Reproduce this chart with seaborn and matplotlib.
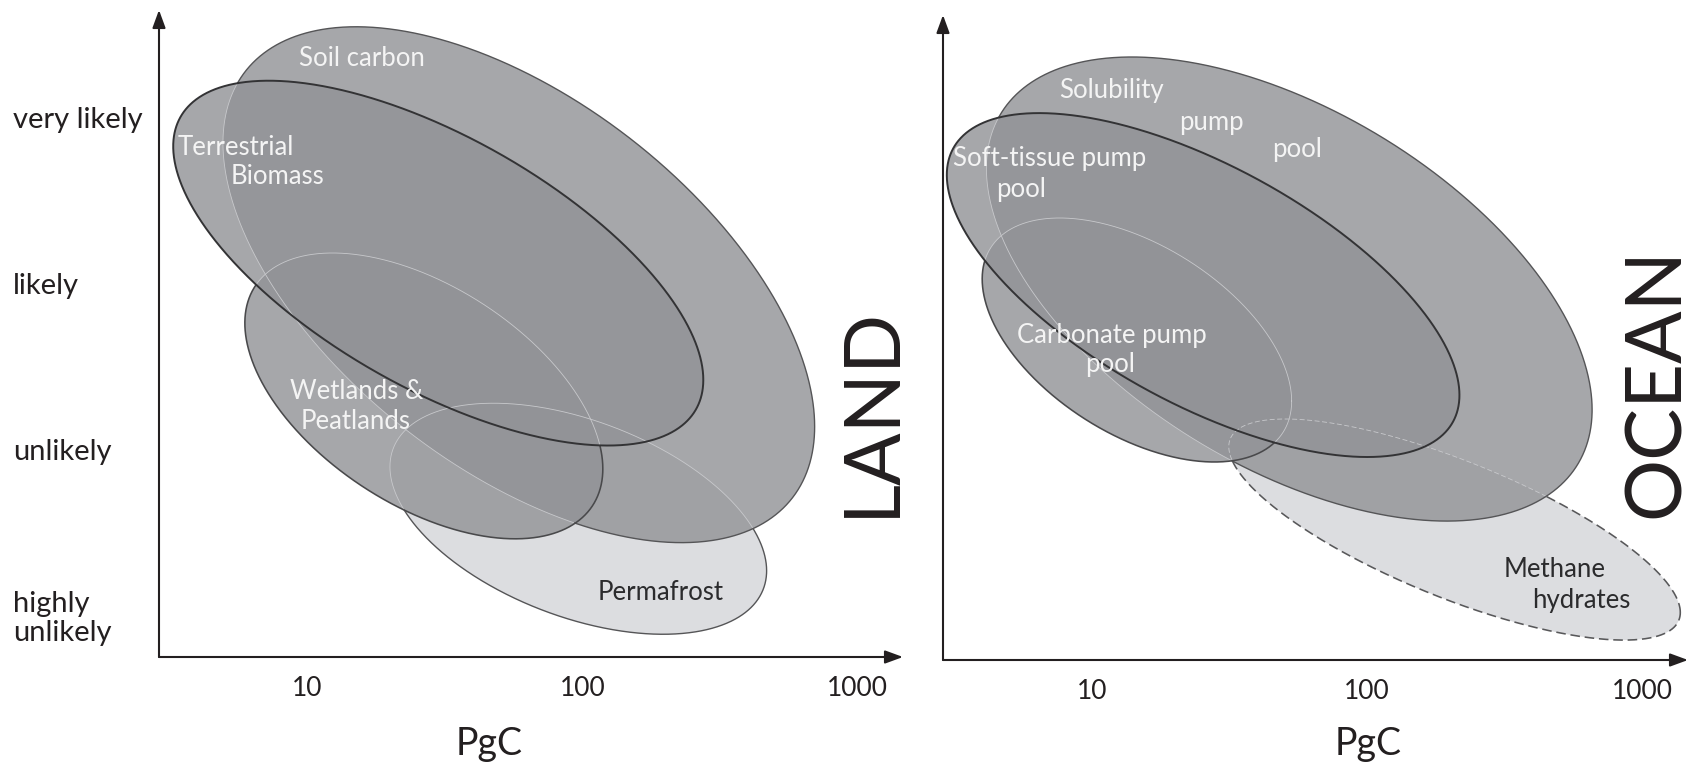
import numpy as np
import matplotlib
matplotlib.use("Agg")
import matplotlib.pyplot as plt
import matplotlib.transforms as mtransforms
import seaborn as sns

# ---------------- data ----------------
likelihood_levels = [4, 3, 2, 1]
likelihood_labels = ["very likely", "likely", "unlikely", "highly\nunlikely"]
pgc_ticks = [10, 100, 1000]
pgc_tick_labels = ["10", "100", "1000"]

# LAND pools (drawing order bottom -> top)
land_pools = ["Permafrost", "Soil carbon", "Wetlands & Peatlands", "Terrestrial Biomass"]
land_center_pgc = [96.6, 58.7, 26.5, 29.9]
land_center_lik = [1.58, 2.99, 2.32, 3.12]
land_spread_decades = [0.685, 1.076, 0.651, 0.964]
land_spread_levels = [0.696, 1.554, 0.861, 1.099]
land_tilt = [-0.45, -0.55, -0.51, -0.64]

# OCEAN pools (drawing order bottom -> top)
ocean_pools = ["Methane hydrates", "Solubility pump pool", "Carbonate pump pool", "Soft-tissue pump pool"]
ocean_center_pgc = [208.0, 52.2, 14.6, 25.4]
ocean_center_lik = [1.533, 2.982, 2.675, 3.006]
ocean_spread_decades = [0.82, 1.10, 0.562, 0.931]
ocean_spread_levels = [0.666, 1.398, 0.735, 1.036]
ocean_tilt = [-0.75, -0.52, -0.50, -0.64]

# labels inside the diagram
land_label_text = ["Soil carbon", "Terrestrial", "Biomass", "Wetlands &", "Peatlands", "Permafrost"]
land_label_pgc = [15.8, 5.5, 7.8, 15.1, 15.0, 192.8]
land_label_lik = [4.355, 3.819, 3.639, 2.349, 2.163, 1.133]
land_label_dark = [False, False, False, False, False, True]

ocean_label_text = ["Solubility", "pump", "pool", "Soft-tissue pump", "pool",
                    "Carbonate pump", "pool", "Methane", "hydrates"]
ocean_label_pgc = [11.8, 27.3, 55.6, 7.03, 5.56, 11.8, 11.7, 478.6, 600.0]
ocean_label_lik = [4.181, 3.988, 3.825, 3.771, 3.584, 2.705, 2.530, 1.295, 1.108]
ocean_label_dark = [False, False, False, False, False, False, False, True, True]

# ---------------- styles ----------------
INK = "#231f20"
land_fill = ["#dcdde0", "#929397", "#929397", "#929397"]
land_alpha = [1.0, 0.81, 0.81, 0.81]
land_edge = ["#555557", "#555557", "#49494b", "#333335"]
land_lw = [1.0, 1.0, 1.15, 1.4]
land_ls = ["-", "-", "-", "-"]

ocean_fill = ["#dcdde0", "#929397", "#929397", "#929397"]
ocean_alpha = [1.0, 0.81, 0.81, 0.81]
ocean_edge = ["#58585a", "#555557", "#49494b", "#333335"]
ocean_lw = [1.15, 1.0, 1.15, 1.4]
ocean_ls = [(0, (6, 3)), "-", "-", "-"]

sns.set_style("white")
plt.rcParams["font.family"] = ["Lato", "DejaVu Sans"]

fig = plt.figure(figsize=(16.96, 7.69), dpi=100)
ax_land = fig.add_axes([159 / 1696, 1 - 657 / 769, 744 / 1696, 647 / 769])
ax_ocean = fig.add_axes([943 / 1696, 1 - 660 / 769, 745 / 1696, 645 / 769])


def draw_pools(ax, cpgc, clik, wd, hl, tilt, fills, alphas, edges, lws, lss):
    t = np.linspace(0, 2 * np.pi, 1441)
    cx = np.log10(np.asarray(cpgc, float))
    n = len(cx)
    curves = []
    for i in range(n):
        phi = np.arccos(tilt[i])
        xl = cx[i] + wd[i] * np.cos(t)
        yl = clik[i] + hl[i] * np.cos(t - phi)
        curves.append((xl, yl))
        ax.fill(10 ** xl, yl, color=fills[i], alpha=alphas[i], lw=0, zorder=1 + i)
    for i in range(n):
        xl, yl = curves[i]
        covered = np.zeros_like(xl, dtype=bool)
        for j in range(i + 1, n):
            u = (xl - cx[j]) / wd[j]
            v = (yl - clik[j]) / hl[j]
            s = np.sqrt(1 - tilt[j] ** 2)
            covered |= (u ** 2 + ((v - u * tilt[j]) / s) ** 2) < 1
        exposed = ~covered
        ex = exposed | np.roll(exposed, 1) | np.roll(exposed, -1)
        cv = covered | np.roll(covered, 1) | np.roll(covered, -1)
        ydark = np.where(ex, yl, np.nan)
        ylight = np.where(cv, yl, np.nan)
        ax.plot(10 ** xl, ylight, color="#c8c9cc", lw=0.6, ls=lss[i], zorder=9)
        ax.plot(10 ** xl, ydark, color=edges[i], lw=lws[i], ls=lss[i], zorder=10,
                solid_capstyle="butt")


def style_axis(ax, ylim):
    ax.set_xscale("log")
    ax.set_xlim(10 ** 0.46, 10 ** 3.166)
    ax.set_ylim(*ylim)
    ax.set_xticks(pgc_ticks)
    ax.set_xticklabels(pgc_tick_labels)
    ax.xaxis.set_minor_locator(matplotlib.ticker.NullLocator())
    ax.set_yticks([])
    ax.tick_params(axis="x", length=0, pad=14, labelsize=19, labelcolor=INK)
    for sp in ax.spines.values():
        sp.set_visible(False)
    ax.set_facecolor("none")
    arrow = dict(arrowstyle="-|>,head_length=0.6,head_width=0.22", color=INK, lw=1.5,
                 mutation_scale=18, shrinkA=0, shrinkB=0)
    ax.annotate("", xy=(1, 0), xytext=(0, 0), xycoords="axes fraction",
                textcoords="axes fraction", arrowprops=arrow, zorder=20)
    ax.annotate("", xy=(0, 1), xytext=(0, 0), xycoords="axes fraction",
                textcoords="axes fraction", arrowprops=arrow, zorder=20)


style_axis(ax_land, (0.747, 4.645))
style_axis(ax_ocean, (0.747, 4.633))

draw_pools(ax_land, land_center_pgc, land_center_lik, land_spread_decades, land_spread_levels,
           land_tilt, land_fill, land_alpha, land_edge, land_lw, land_ls)
draw_pools(ax_ocean, ocean_center_pgc, ocean_center_lik, ocean_spread_decades, ocean_spread_levels,
           ocean_tilt, ocean_fill, ocean_alpha, ocean_edge, ocean_lw, ocean_ls)

for ax, txts, xs, ys, darks in [
    (ax_land, land_label_text, land_label_pgc, land_label_lik, land_label_dark),
    (ax_ocean, ocean_label_text, ocean_label_pgc, ocean_label_lik, ocean_label_dark),
]:
    for s, x, y, d in zip(txts, xs, ys, darks):
        ax.text(x, y, s, ha="center", va="center", fontsize=18.5,
                color=("#2b2b2d" if d else "#f4f4f4"), zorder=30)

# y-axis likelihood labels (left panel only)
btf = mtransforms.blended_transform_factory(fig.transFigure, ax_land.transData)
for lev, lab in zip(likelihood_levels, likelihood_labels):
    fig.text(13 / 1696, lev - 0.02, lab, transform=btf, ha="left", va="center",
             fontsize=21, color=INK, linespacing=1.15)

# axis titles and panel names
fig.text(489 / 1696, 1 - 744 / 769, "PgC", ha="center", va="center", fontsize=27, color=INK)
fig.text(1368 / 1696, 1 - 744 / 769, "PgC", ha="center", va="center", fontsize=27, color=INK)
fig.text(872 / 1696, 1 - 411 / 769, "LAND", rotation=90, ha="center", va="center",
         fontsize=56, color=INK, fontweight="normal")
fig.text(1657 / 1696, 1 - 382 / 769, "OCEAN", rotation=90, ha="center", va="center",
         fontsize=56, color=INK, fontweight="normal")

fig.savefig("out.png", dpi=100, facecolor="white")
